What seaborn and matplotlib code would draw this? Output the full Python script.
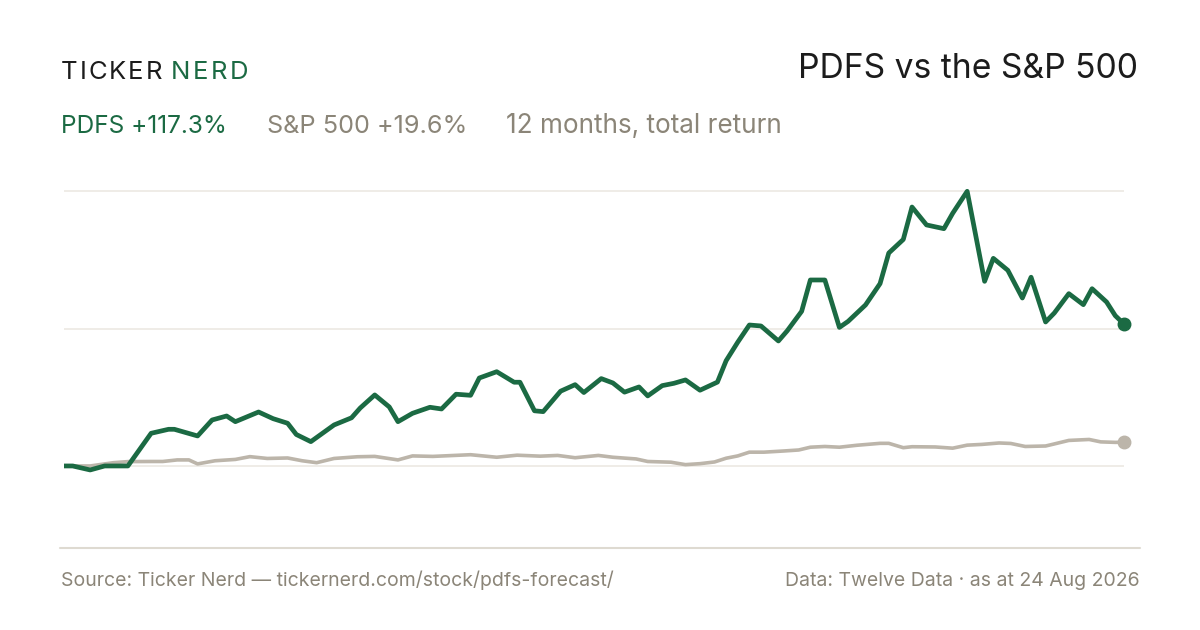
import pandas as pd
import matplotlib
matplotlib.use("Agg")
import matplotlib.pyplot as plt
import seaborn as sns
from matplotlib.lines import Line2D

# data (days since start, total return in %)
start_date = pd.Timestamp("2025-08-24")

pdfs_days = [0, 3, 9, 14, 22, 30, 36, 38, 46, 51, 56, 59, 67, 72, 77, 80, 85, 93,
             99, 102, 107, 112, 115, 120, 126, 130, 135, 140, 143, 149, 155, 157,
             162, 165, 171, 176, 179, 185, 189, 193, 198, 201, 206, 210, 214, 219,
             225, 228, 232, 236, 240, 246, 249, 254, 257, 262, 267, 270, 276, 281,
             284, 289, 292, 297, 303, 306, 311, 317, 320, 325, 330, 333, 338, 341,
             346, 351, 354, 359, 362, 365]
pdfs_ret = [0, 0, -3.3, 0, 0, 27.0, 30.3, 30.3, 24.8, 38.0, 41.3, 36.6, 44.6, 39.1,
            35.3, 26.0, 20.1, 33.9, 39.8, 47.9, 58.7, 48.8, 36.6, 43.5, 48.5, 47.1,
            59.3, 58.4, 72.7, 77.9, 69.2, 69.2, 45.6, 44.9, 61.8, 67.2, 60.7, 72.2,
            68.6, 61.0, 65.3, 57.9, 66.4, 68.3, 71.1, 62.6, 69.3, 87.0, 102.3, 116.5,
            115.7, 103.3, 111.6, 127.8, 153.7, 153.7, 114.5, 119.5, 133.1, 150.7,
            176.0, 187.2, 214.0, 199.2, 196.1, 208.8, 227.0, 152.6, 171.6, 161.7,
            138.8, 156.0, 119.0, 126.4, 142.4, 133.3, 146.5, 135.5, 124.2, 117.3]

spx_days = [0, 9, 17, 22, 30, 34, 39, 43, 46, 52, 59, 64, 70, 77, 82, 87, 93, 101,
            107, 115, 120, 127, 140, 149, 156, 164, 170, 176, 184, 189, 197, 201,
            209, 214, 219, 224, 228, 232, 236, 241, 248, 253, 257, 262, 267, 273,
            281, 284, 289, 292, 300, 306, 311, 316, 322, 326, 331, 338, 341, 346,
            353, 357, 362, 365]
spx_ret = [0, 0, 2.7, 3.6, 3.7, 3.7, 5.0, 5.0, 1.7, 4.3, 5.4, 7.7, 6.2, 6.6, 4.3,
           2.7, 6.2, 7.6, 7.9, 5.0, 8.3, 7.9, 9.3, 7.2, 8.9, 8.1, 8.7, 6.8, 8.7,
           7.2, 5.8, 3.7, 3.1, 1.1, 1.9, 3.3, 6.4, 8.3, 11.4, 11.4, 12.4, 13.2,
           15.5, 16.1, 15.5, 17.1, 18.7, 18.7, 15.1, 15.9, 15.7, 14.7, 17.2, 17.8,
           19.0, 18.6, 16.1, 16.5, 18.2, 21.1, 21.9, 19.9, 19.5, 19.6]

GREEN = "#1b6a43"
SAND = "#bcb5aa"
MUTED = "#8b8578"
INK = "#1c1c1c"
W, H = 1200, 630

pdfs = pd.DataFrame({"date": start_date + pd.to_timedelta(pdfs_days, unit="D"),
                     "ret": pdfs_ret})
spx = pd.DataFrame({"date": start_date + pd.to_timedelta(spx_days, unit="D"),
                    "ret": spx_ret})

sns.set_theme(style="white")
plt.rcParams["font.family"] = ["Inter", "DejaVu Sans"]

fig = plt.figure(figsize=(12, 6.3), dpi=100)
ax = fig.add_axes([64 / W, 1 - 548 / H, (1124 - 64) / W, (548 - 170) / H])

sns.lineplot(data=spx, x="date", y="ret", color=SAND, lw=2.6, ax=ax)
sns.lineplot(data=pdfs, x="date", y="ret", color=GREEN, lw=3.4, ax=ax)
ax.plot(spx["date"].iloc[-1], spx["ret"].iloc[-1], "o", color=SAND, ms=9, clip_on=False)
ax.plot(pdfs["date"].iloc[-1], pdfs["ret"].iloc[-1], "o", color=GREEN, ms=9, clip_on=False)

ax.set_xlim(pdfs["date"].min(), pdfs["date"].max())
ax.set_ylim(-67.8, 244.6)
top = max(pdfs_ret)
ax.set_yticks([0, top / 2, top])
ax.set_xticks([])
ax.grid(axis="y", color="#ece9e3", lw=1.2)
ax.set_axisbelow(True)
ax.tick_params(left=False, labelleft=False, bottom=False, labelbottom=False)
sns.despine(ax=ax, left=True, bottom=True)
ax.set_xlabel("")
ax.set_ylabel("")

fig.add_artist(Line2D([60 / W, 1140 / W], [1 - 548 / H] * 2, color="#dedad1", lw=1.5))

renderer = fig.canvas.get_renderer()


def tracked(x, y, s, color, size, span):
    # spread letters so the word covers `span` pixels
    items = [fig.text(0, 0, ch, color=color, fontsize=size, va="baseline") for ch in s]
    widths = [t.get_window_extent(renderer).width for t in items]
    gap = (span - sum(widths)) / (len(s) - 1)
    for t, w in zip(items, widths):
        t.set_position((x / W, 1 - y / H))
        x += w + gap
    return x


tracked(61, 79.3, "TICKER", INK, 18.5, 101)
tracked(171, 79.3, "NERD", GREEN, 18.5, 77)

fig.text(1138 / W, 1 - 78.5 / H, "PDFS vs the S&P 500", color=INK, fontsize=24.2,
         ha="right", va="baseline")

fig.text(61 / W, 1 - 133 / H, "PDFS +117.3%", color=GREEN, fontsize=17.6, va="baseline")
fig.text(267 / W, 1 - 133 / H, "S&P 500 +19.6%", color=MUTED, fontsize=18.2, va="baseline")
fig.text(506 / W, 1 - 133 / H, "12 months, total return", color=MUTED, fontsize=18.8,
         va="baseline")

fig.text(61 / W, 1 - 586 / H, "Source: Ticker Nerd \u2014 tickernerd.com/stock/pdfs-forecast/",
         color=MUTED, fontsize=14, va="baseline")
fig.text(1140 / W, 1 - 586 / H, "Data: Twelve Data \u00b7 as at 24 Aug 2026",
         color=MUTED, fontsize=14, ha="right", va="baseline")

fig.savefig("out.png", dpi=100, facecolor="white")
